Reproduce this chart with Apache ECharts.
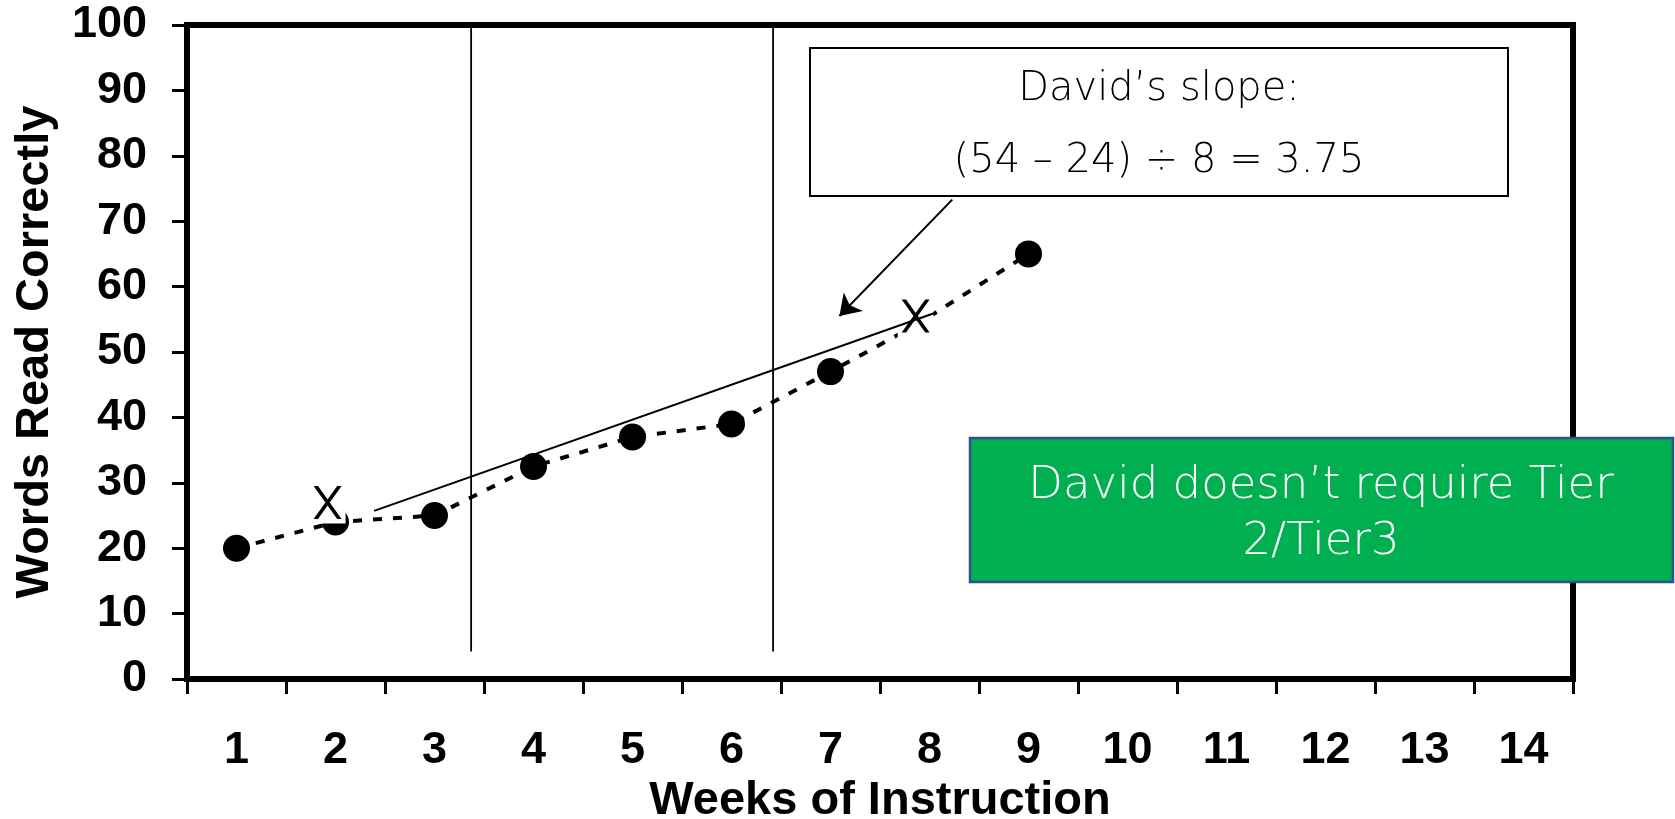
<!DOCTYPE html>
<html><head><meta charset="utf-8">
<script src="https://cdn.jsdelivr.net/npm/echarts@6/dist/echarts.min.js"></script>
<style>html,body{margin:0;padding:0;background:#fff}#c{width:1675px;height:819px}</style>
</head><body><div id="c"></div>
<script>
// ---- data ----
const weekLabels = ['1','2','3','4','5','6','7','8','9','10','11','12','13','14'];
const weekPos = [1, 2, 3, 4, 5, 6, 7, 7.85, 9];
const wordsCorrect = [20, 24, 25, 32.5, 37, 39, 47, 54, 65];
const dotHidden = [false, false, false, false, false, false, false, true, false];
const xMarkWeeks = [1.92, 7.86];
const xMarkValues = [27, 55.5];
const trendWeeks = [2.39, 8.06];
const trendValues = [25.7, 56];
const phaseWeeks = [3.37, 6.42];
const phaseRange = [4.2, 100];
const arrowFrom = [8.23, 73.3];
const arrowTo = [7.09, 55.5];
const slopeText = ['David’s slope:', '(54 – 24) ÷ 8 = 3.75'];
const noteText = ['David doesn’t require Tier', '2/Tier3'];

const boldFont = "'Liberation Sans', Arial, sans-serif";
const handFont = "'DejaVu Sans', sans-serif";
const xGlyph = 'path://M0,0L4.4,0L28,33L23.6,33ZM23.6,0L28,0L4.4,33L0,33Z';

const chart = echarts.init(document.getElementById('c'), null, {renderer: 'canvas'});

const dotData = weekPos.map((w, i) => dotHidden[i]
  ? {value: [w, wordsCorrect[i]], symbol: 'none'}
  : {value: [w, wordsCorrect[i]]});
const xMarkData = xMarkWeeks.map((w, i) => [w, xMarkValues[i]]);
const trendData = trendWeeks.map((w, i) => [w, trendValues[i]]);
const phaseSeries = phaseWeeks.map(w => ({
  type: 'line', xAxisIndex: 1, yAxisIndex: 0,
  data: phaseRange.map(v => [w, v]),
  symbol: 'none', silent: true,
  lineStyle: {color: '#000', width: 1.8}, z: 2
}));

chart.setOption({
  animation: false,
  backgroundColor: '#fff',
  grid: {left: 187, right: 102, top: 25, bottom: 140, containLabel: false, outerBoundsMode: 'none',
         show: true, borderColor: '#000', borderWidth: 6, backgroundColor: 'transparent'},
  xAxis: [
    {
      type: 'category', data: weekLabels, boundaryGap: true, position: 'bottom',
      axisLine: {show: true, lineStyle: {color: '#000', width: 6}},
      axisTick: {show: true, length: 15, inside: false, lineStyle: {color: '#000', width: 3}},
      axisLabel: {color: '#000', fontSize: 45, fontWeight: 'bold', fontFamily: boldFont, margin: 49},
      splitLine: {show: false},
      name: 'Weeks of Instruction', nameLocation: 'middle', nameGap: 98,
      nameTextStyle: {color: '#000', fontSize: 47, fontWeight: 'bold', fontFamily: boldFont}
    },
    {type: 'value', min: 0.5, max: 14.5, show: false, splitLine: {show: false}}
  ],
  yAxis: {
    type: 'value', min: 0, max: 100, interval: 10,
    axisLine: {show: true, lineStyle: {color: '#000', width: 6}},
    axisTick: {show: true, length: 15, inside: false, lineStyle: {color: '#000', width: 3}},
    axisLabel: {color: '#000', fontSize: 45, fontWeight: 'bold', fontFamily: boldFont, margin: 40},
    splitLine: {show: false},
    name: 'Words Read Correctly', nameLocation: 'middle', nameGap: 128, nameRotate: 90,
    nameTextStyle: {color: '#000', fontSize: 47, fontWeight: 'bold', fontFamily: boldFont}
  },
  series: [
    {
      type: 'line', xAxisIndex: 1, yAxisIndex: 0, data: dotData,
      symbol: 'circle', symbolSize: 27, showAllSymbol: true,
      itemStyle: {color: '#000'},
      lineStyle: {color: '#000', width: 4, type: [9, 11]}, z: 2
    },
    {
      type: 'scatter', xAxisIndex: 1, yAxisIndex: 0, data: xMarkData,
      symbol: 'rect', symbolSize: [36, 38], symbolOffset: [0, 2], silent: true,
      itemStyle: {color: '#fff', opacity: 1}, z: 3
    },
    {
      type: 'scatter', xAxisIndex: 1, yAxisIndex: 0, data: xMarkData,
      symbol: xGlyph, symbolSize: [28, 33], symbolKeepAspect: false, silent: true,
      itemStyle: {color: '#000', opacity: 1}, z: 4
    },
    {
      type: 'line', xAxisIndex: 1, yAxisIndex: 0, data: trendData,
      symbol: 'none', lineStyle: {color: '#000', width: 2}, z: 5,
      markLine: {
        silent: true, symbol: ['none', 'arrow'], symbolSize: 20,
        label: {show: false},
        lineStyle: {color: '#000', width: 2, type: 'solid'},
        data: [[{coord: arrowFrom}, {coord: arrowTo}]]
      }
    },
    ...phaseSeries
  ],
  graphic: [
    {type: 'rect', shape: {x: 810, y: 48, width: 698, height: 148},
     style: {fill: '#fff', stroke: '#000', lineWidth: 2}, z: 10},
    {type: 'text', x: 1159, y: 90, z: 11,
     style: {text: slopeText[0], fill: '#000', fontSize: 40, fontFamily: handFont, fontWeight: 200,
             align: 'center', verticalAlign: 'middle'}},
    {type: 'text', x: 1159, y: 162, z: 11,
     style: {text: slopeText[1], fill: '#000', fontSize: 40, fontFamily: handFont, fontWeight: 200,
             align: 'center', verticalAlign: 'middle'}},
    {type: 'rect', shape: {x: 970, y: 438, width: 703, height: 144},
     style: {fill: '#00b050', stroke: '#2f528f', lineWidth: 2.5}, z: 10},
    {type: 'text', x: 1321, y: 486, z: 11,
     style: {text: noteText[0], fill: '#fff', fontSize: 45, fontFamily: handFont, fontWeight: 200,
             align: 'center', verticalAlign: 'middle'}},
    {type: 'text', x: 1321, y: 542, z: 11,
     style: {text: noteText[1], fill: '#fff', fontSize: 45, fontFamily: handFont, fontWeight: 200,
             align: 'center', verticalAlign: 'middle'}}
  ]
});
</script>
</body></html>
